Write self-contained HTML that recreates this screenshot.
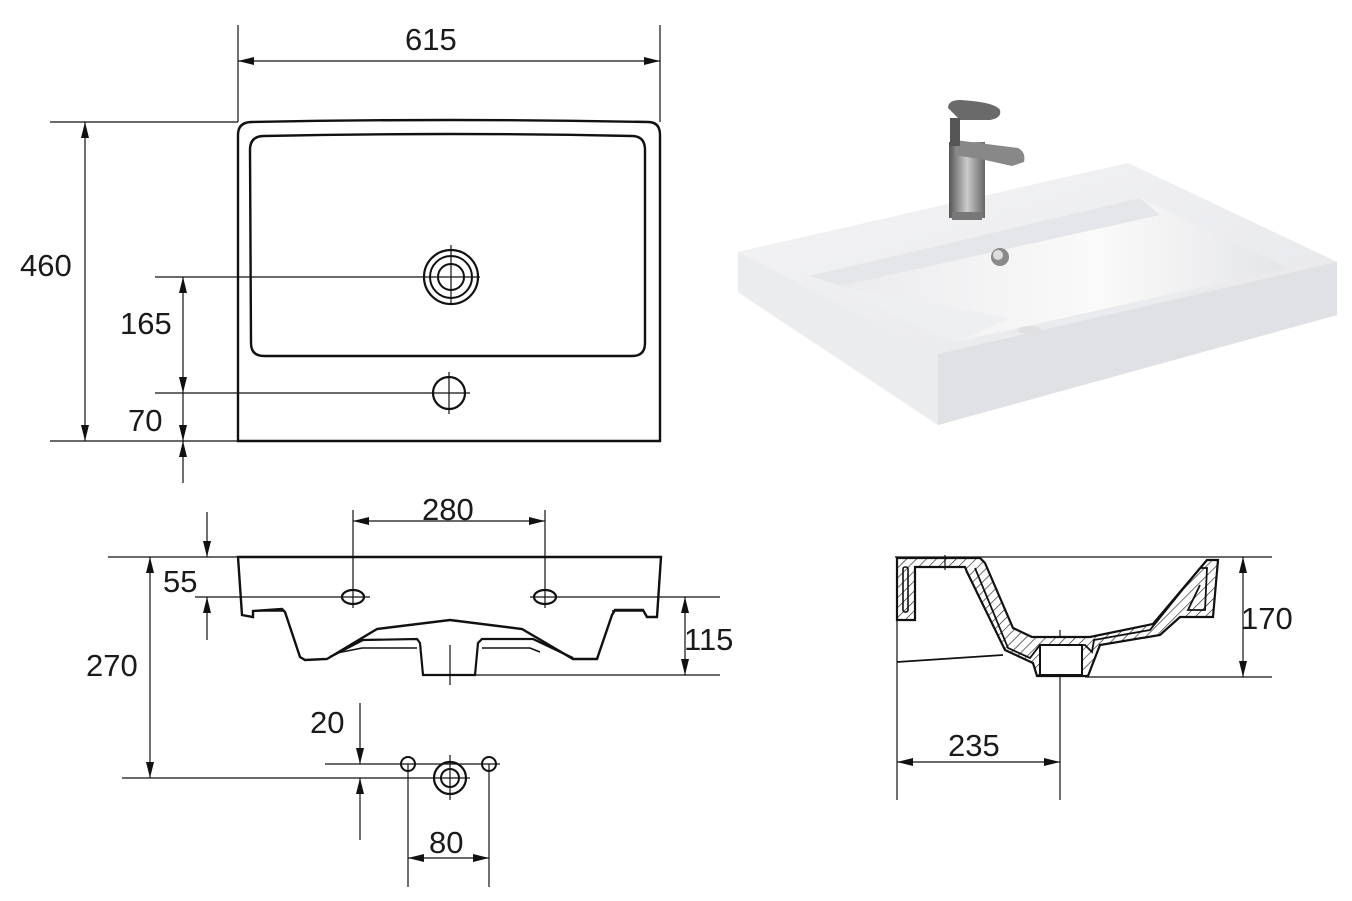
<!DOCTYPE html>
<html><head><meta charset="utf-8"><style>
html,body{margin:0;padding:0;background:#fff;}
svg{display:block;}
text{font-family:"Liberation Sans",sans-serif;font-size:31px;fill:#1a1a1a;}
</style></head><body>
<svg width="1352" height="901" viewBox="0 0 1352 901" xmlns="http://www.w3.org/2000/svg">
<defs>
<marker id="a" viewBox="0 0 16 8" refX="16" refY="4" markerWidth="16" markerHeight="8" orient="auto-start-reverse" markerUnits="userSpaceOnUse"><path d="M0,0 L16,4 L0,8 z" fill="#111"/></marker>
<pattern id="h" width="7" height="7" patternUnits="userSpaceOnUse" patternTransform="rotate(45)"><rect width="7" height="7" fill="#fff"/><line x1="0" y1="0" x2="0" y2="7" stroke="#222" stroke-width="1.3"/></pattern>
<linearGradient id="g1" x1="0" y1="0" x2="1" y2="1"><stop offset="0" stop-color="#f4f4f6"/><stop offset="1" stop-color="#e6e7ea"/></linearGradient>
<linearGradient id="g2" x1="0" y1="0" x2="0" y2="1"><stop offset="0" stop-color="#ececee"/><stop offset="1" stop-color="#d8d9dc"/></linearGradient>
<linearGradient id="g4" x1="0" y1="0" x2="1" y2="0"><stop offset="0" stop-color="#e9e9ec"/><stop offset=".6" stop-color="#fafafa"/><stop offset="1" stop-color="#e4e5e8"/></linearGradient>
<linearGradient id="g3" x1="0" y1="0" x2="1" y2="0"><stop offset="0" stop-color="#555"/><stop offset=".5" stop-color="#ccc"/><stop offset="1" stop-color="#666"/></linearGradient>
</defs>
<g stroke="#111" stroke-width="1.2" fill="none">
<path d="M238,441 L238,135 Q238,122 252,122 Q450,118 648,122 Q660,122 660,135 L660,441 Z" stroke-width="2.4"/>
<path d="M250,150 Q250,136 264,136 Q450,132 632,136 Q645,136 645,150 L645,343 Q645,356 632,356 L264,356 Q251,356 251,343 Z" stroke-width="2.4"/>
<circle cx="451" cy="277" r="27" stroke-width="2.2"/><circle cx="451" cy="277" r="21" stroke-width="2"/><circle cx="451" cy="277" r="13" stroke-width="2"/>
<circle cx="449" cy="393" r="16" stroke-width="2.2"/>
<line x1="155" y1="277" x2="480" y2="277"/><line x1="451" y1="245" x2="451" y2="305"/>
<line x1="155" y1="393" x2="470" y2="393"/><line x1="449" y1="372" x2="449" y2="414"/>
<line x1="238" y1="25" x2="238" y2="122"/><line x1="660" y1="25" x2="660" y2="122"/>
<line x1="238" y1="61" x2="660" y2="61" marker-start="url(#a)" marker-end="url(#a)"/>
<line x1="50" y1="122" x2="238" y2="122"/><line x1="50" y1="441" x2="238" y2="441"/>
<line x1="85" y1="122" x2="85" y2="441" marker-start="url(#a)" marker-end="url(#a)"/>
<line x1="183" y1="277" x2="183" y2="393" marker-start="url(#a)" marker-end="url(#a)"/>
<line x1="183" y1="393" x2="183" y2="441" marker-end="url(#a)"/>
<line x1="183" y1="483" x2="183" y2="441" marker-end="url(#a)"/>
<path d="M238,557 L661,557 L657,617 L647,617 L643,610 L615,610 L612,615 L597,659 L573,659 L522,629 L450,620 L377,629 L327,659 L305,660 L300,657 L285,612 L282,609 L253,611 L253,617 L242,615 Z" stroke-width="2.4"/>
<path d="M330,657 L363,640 L417,639 L420,643 L423,675 L475,675 L478,643 L482,639 L533,639 L573,658" stroke-width="2.2"/>
<path d="M337,653 L362,648 L368,648 L417,648 M482,648 L530,648 L540,652" stroke-width="1.6"/>
<path d="M253,611 L285,611 M612,611 L643,611" stroke-width="1.6"/>
<ellipse cx="353" cy="597" rx="11" ry="7" stroke-width="2.2"/><ellipse cx="545" cy="597" rx="11" ry="7" stroke-width="2.2"/>
<line x1="353" y1="510" x2="353" y2="608"/><line x1="545" y1="510" x2="545" y2="608"/>
<line x1="450" y1="645" x2="450" y2="685"/>
<line x1="353" y1="521" x2="545" y2="521" marker-start="url(#a)" marker-end="url(#a)"/>
<line x1="108" y1="557" x2="238" y2="557"/>
<line x1="195" y1="597" x2="370" y2="597"/><line x1="530" y1="597" x2="720" y2="597"/>
<line x1="475" y1="675" x2="720" y2="675"/>
<line x1="207" y1="512" x2="207" y2="557" marker-end="url(#a)"/>
<line x1="207" y1="640" x2="207" y2="597" marker-end="url(#a)"/>
<line x1="685" y1="597" x2="685" y2="675" marker-start="url(#a)" marker-end="url(#a)"/>
<line x1="150" y1="557" x2="150" y2="778" marker-start="url(#a)" marker-end="url(#a)"/>
<line x1="122" y1="778" x2="470" y2="778"/>
<line x1="325" y1="764" x2="500" y2="764"/>
<circle cx="408" cy="764" r="7" stroke-width="2"/><circle cx="489" cy="764" r="7" stroke-width="2"/>
<circle cx="450" cy="778" r="16" stroke-width="2.2"/><circle cx="450" cy="778" r="9" stroke-width="2"/>
<line x1="450" y1="755" x2="450" y2="800"/>
<line x1="360" y1="703" x2="360" y2="764" marker-end="url(#a)"/>
<line x1="360" y1="840" x2="360" y2="778" marker-end="url(#a)"/>
<line x1="408" y1="764" x2="408" y2="887"/><line x1="489" y1="764" x2="489" y2="887"/>
<line x1="408" y1="858" x2="489" y2="858" marker-start="url(#a)" marker-end="url(#a)"/>
<line x1="895" y1="557" x2="1272" y2="557"/>
<line x1="897" y1="557" x2="897" y2="800"/>
<line x1="897" y1="662" x2="1003" y2="655" stroke-width="1.8"/>
<line x1="1060" y1="630" x2="1060" y2="800"/>
<line x1="1085" y1="677" x2="1272" y2="677"/>
<path d="M897,558 L980,558 L985,563 L1013,628 L1032,637 L1090,637 L1153,624 L1207,560 L1218,560 L1213,617 L1180,617 L1160,635 L1100,645 L1088,676 L1037,676 L1033,663 L1005,650 L967,572 L965,567 L915,567 L915,620 L897,620 Z" fill="url(#h)" stroke-width="2.2"/>
<path d="M975,568 L1008,648 L1030,658 L1040,645 L1085,645 L1092,652 L1094,640 L1150,630 L1200,568 L1207,568 L1205,610 L1188,610 L1200,585" stroke-width="1.8"/>
<rect x="903" y="567" width="5" height="45" rx="2" stroke-width="1.6"/>
<rect x="1040" y="645" width="42" height="30" fill="#fff" stroke-width="2"/>
<line x1="945" y1="555" x2="945" y2="570"/>
<line x1="897" y1="762" x2="1060" y2="762" marker-start="url(#a)" marker-end="url(#a)"/>
<line x1="1243" y1="557" x2="1243" y2="677" marker-start="url(#a)" marker-end="url(#a)"/>
</g>
<text x="405" y="50">615</text>
<text x="20" y="276">460</text>
<text x="120" y="334">165</text>
<text x="128" y="431">70</text>
<text x="422" y="520">280</text>
<text x="163" y="592">55</text>
<text x="684" y="650">115</text>
<text x="86" y="676">270</text>
<text x="310" y="733">20</text>
<text x="429" y="853">80</text>
<text x="948" y="756">235</text>
<text x="1241" y="629">170</text>
<polygon points="738,252 1128,163 1337,262 1337,315 938,425 738,292" fill="url(#g2)"/>
<polygon points="738,252 1128,163 1337,262 935,355" fill="url(#g1)"/>
<polygon points="938,355 1337,262 1337,315 938,425" fill="#e0e1e4"/>
<polygon points="738,252 938,355 938,425 738,292" fill="#ebecee"/>
<polygon points="810,276 1140,198 1288,268 955,342" fill="url(#g4)"/>
<polygon points="810,276 1140,198 1160,215 840,286" fill="#e5e6e9"/>
<polygon points="810,276 840,286 1010,318 955,342" fill="#eeeff1"/>
<ellipse cx="1030" cy="330" rx="12" ry="4" fill="#e0e0e3"/>
<circle cx="1000" cy="257" r="9" fill="#8a8a8a"/><circle cx="998" cy="255" r="5" fill="#ddd"/>
<rect x="949" y="142" width="36" height="76" fill="url(#g3)"/>
<rect x="952" y="212" width="30" height="8" fill="#777"/>
<path d="M955,140 L1018,148 Q1026,152 1024,162 L1012,166 L985,160 L955,155 Z" fill="#888"/>
<path d="M948,108 Q948,100 960,100 Q995,102 1000,110 Q1002,118 990,120 L960,120 Z" fill="#6a6a6a"/>
<rect x="950" y="118" width="10" height="28" fill="#555"/>
</svg>
</body></html>
